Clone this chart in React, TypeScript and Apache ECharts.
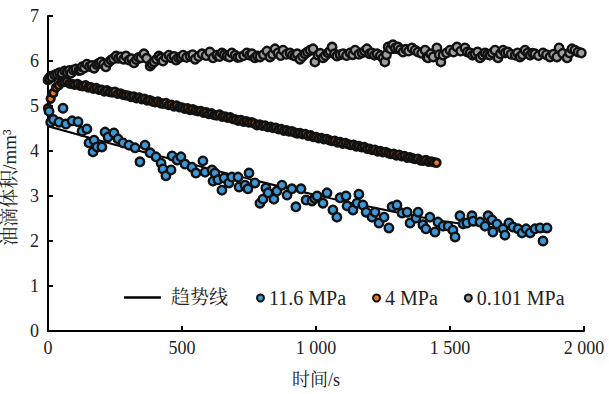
import React, { useEffect, useRef } from "react";
import * as echarts from "echarts";

const xTicks = [0, 500, 1000, 1500, 2000];
const yTicks = [0, 1, 2, 3, 4, 5, 6, 7];

const blueData: number[][] = [
  [4, 4.88], [10, 4.64], [20, 4.7], [41, 4.64], [56, 4.95], [67, 4.6], [90, 4.67], [112, 4.65], [127, 4.44], [145, 4.49],
  [153, 4.18], [168, 3.98], [172, 4.24], [183, 4.09], [201, 4.09], [213, 4.42], [224, 4.31], [246, 4.4], [261, 4.27], [280, 4.18],
  [302, 4.13], [325, 4.07], [343, 3.76], [362, 4.13], [381, 3.96], [403, 3.87], [422, 3.73], [429, 3.6], [440, 3.45], [459, 3.58],
  [463, 3.89], [482, 3.8], [496, 3.87], [511, 3.71], [537, 3.64], [552, 3.51], [578, 3.78], [586, 3.53], [612, 3.58], [616, 3.33],
  [623, 3.51], [634, 3.36], [649, 3.13], [657, 3.4], [675, 3.29], [686, 3.42], [709, 3.42], [713, 3.2], [735, 3.24], [746, 3.16],
  [750, 3.51], [772, 3.29], [791, 2.84], [802, 2.93], [813, 3.18], [821, 3.07], [843, 2.93], [854, 3.11], [873, 3.24], [892, 3.02],
  [910, 3.16], [925, 2.76], [944, 3.16], [963, 2.91], [985, 2.89], [995, 2.95], [1004, 3.0], [1026, 2.84], [1041, 3.07], [1063, 2.69],
  [1078, 2.53], [1090, 2.96], [1112, 3.0], [1116, 2.78], [1138, 2.69], [1153, 2.84], [1160, 3.04], [1175, 2.8], [1187, 2.64], [1209, 2.53],
  [1220, 2.64], [1235, 2.4], [1254, 2.53], [1272, 2.29], [1284, 2.76], [1302, 2.8], [1321, 2.62], [1340, 2.64], [1351, 2.4], [1373, 2.51],
  [1381, 2.64], [1399, 2.36], [1410, 2.27], [1425, 2.53], [1444, 2.2], [1455, 2.42], [1474, 2.33], [1493, 2.33], [1511, 2.24], [1519, 2.09],
  [1537, 2.56], [1549, 2.38], [1563, 2.4], [1582, 2.56], [1586, 2.44], [1612, 2.42], [1631, 2.33], [1642, 2.56], [1657, 2.47], [1660, 2.2],
  [1675, 2.38], [1698, 2.27], [1705, 2.13], [1720, 2.4], [1735, 2.31], [1754, 2.27], [1769, 2.18], [1784, 2.27], [1799, 2.18], [1817, 2.27],
  [1836, 2.29], [1847, 2.0], [1862, 2.29],
];

const orangeTime: number[] = [
  0, 10, 20, 30, 40, 50, 60, 70, 80, 90,
  100, 110, 120, 130, 140, 150, 160, 170, 180, 190,
  200, 210, 220, 230, 240, 250, 260, 270, 280, 290,
  300, 310, 320, 330, 340, 350, 360, 370, 380, 390,
  400, 410, 420, 430, 440, 450, 460, 470, 480, 490,
  500, 510, 520, 530, 540, 550, 560, 570, 580, 590,
  600, 610, 620, 630, 640, 650, 660, 670, 680, 690,
  700, 710, 720, 730, 740, 750, 760, 770, 780, 790,
  800, 810, 820, 830, 840, 850, 860, 870, 880, 890,
  900, 910, 920, 930, 940, 950, 960, 970, 980, 990,
  1000, 1010, 1020, 1030, 1040, 1050, 1060, 1070, 1080, 1090,
  1100, 1110, 1120, 1130, 1140, 1150, 1160, 1170, 1180, 1190,
  1200, 1210, 1220, 1230, 1240, 1250, 1260, 1270, 1280, 1290,
  1300, 1310, 1320, 1330, 1340, 1350, 1360, 1370, 1380, 1390,
  1400, 1410, 1420, 1430, 1440, 1450,
];
const orangeValue: number[] = [
  4.95, 5.16, 5.29, 5.41, 5.46, 5.52, 5.53, 5.55, 5.5, 5.49,
  5.47, 5.49, 5.45, 5.44, 5.46, 5.41, 5.42, 5.38, 5.4, 5.36,
  5.36, 5.32, 5.35, 5.31, 5.3, 5.32, 5.27, 5.28, 5.25, 5.24,
  5.23, 5.2, 5.21, 5.17, 5.19, 5.15, 5.16, 5.12, 5.13, 5.1,
  5.08, 5.1, 5.06, 5.05, 5.07, 5.02, 5.03, 4.99, 5.01, 4.97,
  4.97, 4.94, 4.95, 4.91, 4.93, 4.9, 4.88, 4.89, 4.85, 4.86,
  4.82, 4.84, 4.8, 4.79, 4.81, 4.76, 4.77, 4.74, 4.75, 4.71,
  4.7, 4.67, 4.69, 4.65, 4.66, 4.63, 4.64, 4.61, 4.57, 4.59,
  4.56, 4.57, 4.53, 4.54, 4.51, 4.52, 4.48, 4.49, 4.45, 4.46,
  4.43, 4.44, 4.41, 4.39, 4.4, 4.37, 4.38, 4.34, 4.35, 4.31,
  4.31, 4.28, 4.29, 4.26, 4.27, 4.24, 4.22, 4.23, 4.19, 4.2,
  4.16, 4.18, 4.15, 4.13, 4.14, 4.1, 4.11, 4.08, 4.09, 4.05,
  4.05, 4.02, 4.03, 3.99, 4.0, 3.97, 3.98, 3.95, 3.93, 3.94,
  3.9, 3.92, 3.88, 3.89, 3.85, 3.86, 3.84, 3.82, 3.83, 3.79,
  3.78, 3.8, 3.76, 3.77, 3.75, 3.74,
];

const grayData: number[][] = [
  [0, 5.58], [4, 5.62], [10, 5.66], [15, 5.64], [25, 5.69], [34, 5.71], [43, 5.74], [52, 5.73], [62, 5.78], [71, 5.76],
  [80, 5.79], [86, 5.73], [95, 5.8], [104, 5.82], [115, 5.79], [123, 5.8], [127, 5.87], [136, 5.85], [145, 5.93], [155, 5.88],
  [164, 5.9], [172, 5.84], [182, 5.92], [190, 5.95], [198, 5.98], [207, 5.93], [216, 5.87], [226, 5.97], [235, 6.02], [244, 6.05],
  [254, 6.11], [263, 6.06], [272, 6.09], [282, 6.04], [291, 6.11], [302, 6.02], [312, 6.05], [321, 5.96], [330, 6.03], [338, 6.08],
  [347, 6.07], [358, 6.16], [368, 6.06], [381, 5.89], [388, 5.94], [396, 5.98], [405, 6.04], [414, 6.11], [421, 6.06], [429, 6.0],
  [440, 6.08], [451, 6.13], [460, 6.07], [470, 6.1], [478, 6.02], [487, 6.07], [496, 6.09], [504, 6.13], [517, 6.08], [530, 6.11],
  [540, 6.14], [549, 6.04], [562, 6.1], [575, 6.16], [590, 6.12], [604, 6.2], [616, 6.07], [630, 6.13], [640, 6.1], [649, 6.18],
  [658, 6.14], [668, 6.11], [677, 6.09], [686, 6.18], [698, 6.13], [707, 6.08], [716, 6.09], [730, 6.12], [742, 6.18], [752, 6.13],
  [761, 6.16], [772, 6.07], [781, 6.11], [791, 6.09], [804, 6.14], [817, 6.22], [828, 6.09], [838, 6.15], [847, 6.27], [858, 6.18],
  [868, 6.12], [877, 6.24], [890, 6.15], [903, 6.18], [912, 6.13], [922, 6.11], [930, 6.16], [940, 6.04], [950, 6.1], [959, 6.16],
  [968, 6.2], [978, 6.24], [989, 6.27], [996, 5.98], [1007, 6.13], [1016, 6.17], [1026, 6.07], [1035, 6.12], [1045, 6.18], [1052, 6.22],
  [1060, 6.31], [1069, 6.16], [1078, 6.11], [1090, 6.14], [1101, 6.16], [1114, 6.12], [1127, 6.18], [1137, 6.14], [1146, 6.24], [1160, 6.15],
  [1172, 6.18], [1181, 6.22], [1190, 6.27], [1200, 6.16], [1209, 6.18], [1218, 6.13], [1228, 6.16], [1240, 6.12], [1250, 6.07], [1257, 5.98],
  [1263, 6.14], [1269, 6.31], [1278, 6.27], [1287, 6.36], [1296, 6.29], [1306, 6.31], [1315, 6.25], [1325, 6.2], [1335, 6.26], [1345, 6.22],
  [1358, 6.29], [1370, 6.24], [1381, 6.2], [1394, 6.17], [1407, 6.24], [1414, 6.09], [1418, 6.07], [1428, 6.16], [1437, 6.09], [1451, 6.29],
  [1460, 6.14], [1466, 5.98], [1474, 6.13], [1487, 6.18], [1500, 6.24], [1513, 6.2], [1526, 6.31], [1540, 6.22], [1556, 6.29], [1565, 6.2],
  [1575, 6.18], [1584, 6.13], [1593, 6.16], [1603, 6.2], [1612, 6.07], [1622, 6.13], [1631, 6.18], [1640, 6.15], [1649, 6.13], [1658, 6.18],
  [1668, 6.24], [1679, 6.07], [1688, 6.16], [1698, 6.24], [1706, 6.18], [1716, 6.2], [1728, 6.15], [1743, 6.13], [1752, 6.18], [1761, 6.09],
  [1770, 6.14], [1780, 6.24], [1790, 6.18], [1799, 6.13], [1808, 6.17], [1817, 6.16], [1830, 6.12], [1847, 6.18], [1860, 6.14], [1873, 6.09],
  [1886, 6.15], [1899, 6.09], [1907, 6.29], [1920, 6.17], [1937, 6.07], [1946, 6.18], [1955, 6.27], [1966, 6.24], [1978, 6.2], [1990, 6.18],
];

const trendBlue: number[][] = [
  [0, 4.55], [250, 4.14], [500, 3.76], [750, 3.38], [1000, 3.02], [1250, 2.7], [1500, 2.42], [1750, 2.25], [1860, 2.2],
];
const trendOrange: number[][] = [
  [0, 4.95], [10, 5.18], [25, 5.38], [45, 5.5], [70, 5.54], [100, 5.5], [200, 5.36], [400, 5.09], [600, 4.83],
  [800, 4.56], [1000, 4.3], [1200, 4.04], [1450, 3.73],
];
const trendGray: number[][] = [
  [0, 5.58], [25, 5.66], [50, 5.72], [100, 5.8], [150, 5.87], [200, 5.93], [300, 6.01], [400, 6.06], [600, 6.11],
  [800, 6.14], [1000, 6.16], [1500, 6.19], [1990, 6.21],
];

const seriesNames = ["11.6 MPa", "4 MPa", "0.101 MPa"];
const trendName = "趋势线";

const FONT = '"Liberation Serif", "Times New Roman", "Noto Serif CJK SC", "Noto Sans CJK SC", serif';

export default function App() {
  const ref = useRef<HTMLDivElement>(null);
  useEffect(() => {
    if (!ref.current) return;
    const chart = echarts.init(ref.current, undefined, { renderer: "svg" });
    const orangeData = orangeTime.map((t, i) => [t, orangeValue[i]]);
    const scatterStyle = (color: string, size: number, bw: number) => ({
      type: "scatter" as const,
      symbol: "circle",
      symbolSize: size,
      itemStyle: { color, borderColor: "#111", borderWidth: bw, opacity: 1 },
      emphasis: { disabled: true },
      z: 3,
    });
    const lineStyle = {
      type: "line" as const,
      name: trendName,
      showSymbol: false,
      symbol: "none",
      smooth: 0.3,
      lineStyle: { color: "#000", width: 2 },
      itemStyle: { color: "#000" },
      z: 2,
    };
    chart.setOption({
      animation: false,
      grid: { left: 48, right: 25, top: 16, bottom: 63, containLabel: false, outerBoundsMode: "none" },
      xAxis: {
        type: "value",
        min: 0,
        max: 2000,
        interval: 500,
        name: "时间/s",
        nameLocation: "middle",
        nameGap: 40,
        nameTextStyle: { fontFamily: FONT, fontSize: 18, color: "#222" },
        axisLine: { show: true, lineStyle: { color: "#000", width: 2 } },
        axisTick: { show: true, inside: true, length: 5, lineStyle: { color: "#000", width: 2 } },
        axisLabel: {
          fontFamily: FONT,
          fontSize: 18,
          color: "#222",
          margin: 8,
          formatter: (v: number) =>
            xTicks.includes(v) ? (v >= 1000 ? String(v).replace(/(\d)(\d{3})$/, "$1 $2") : String(v)) : "",
        },
        splitLine: { show: false },
      },
      yAxis: {
        type: "value",
        min: 0,
        max: 7,
        interval: 1,
        name: "油滴体积/mm³",
        nameLocation: "middle",
        nameGap: 18,
        nameTextStyle: { fontFamily: FONT, fontSize: 19, color: "#222", padding: [0, 28, 0, 0] },
        axisLine: { show: true, lineStyle: { color: "#000", width: 2 } },
        axisTick: { show: true, inside: true, length: 5, lineStyle: { color: "#000", width: 2 } },
        axisLabel: {
          fontFamily: FONT,
          fontSize: 18,
          color: "#222",
          margin: 9,
          formatter: (v: number) => (yTicks.includes(v) ? String(v) : ""),
        },
        splitLine: { show: false },
      },
      legend: [
        {
          data: [{ name: trendName, icon: "rect" }],
          left: 119,
          top: 283,
          itemWidth: 37,
          itemHeight: 2.5,
          textStyle: { fontFamily: FONT, fontSize: 19, color: "#222", padding: [0, 0, 0, 5] },
        },
        {
          data: seriesNames.map((n) => ({ name: n, icon: "circle" })),
          left: 251,
          top: 283,
          itemWidth: 7,
          itemHeight: 7,
          itemGap: 26,
          itemStyle: { borderWidth: 2 },
          textStyle: { fontFamily: FONT, fontSize: 20, color: "#222" },
        },
      ],
      series: [
        { ...lineStyle, data: trendGray },
        { ...lineStyle, data: trendOrange },
        { ...lineStyle, data: trendBlue },
        { ...scatterStyle("#a0a0a0", 8.5, 2.4), name: seriesNames[2], data: grayData },
        { ...scatterStyle("#f07a1c", 7.5, 2.8), name: seriesNames[1], data: orangeData },
        { ...scatterStyle("#3d98d8", 8.5, 2.4), name: seriesNames[0], data: blueData },
      ],
    });
    return () => chart.dispose();
  }, []);
  return (
    <div
      ref={ref}
      style={{ position: "fixed", left: 0, top: 0, width: 609, height: 394, background: "#fff" }}
    />
  );
}
